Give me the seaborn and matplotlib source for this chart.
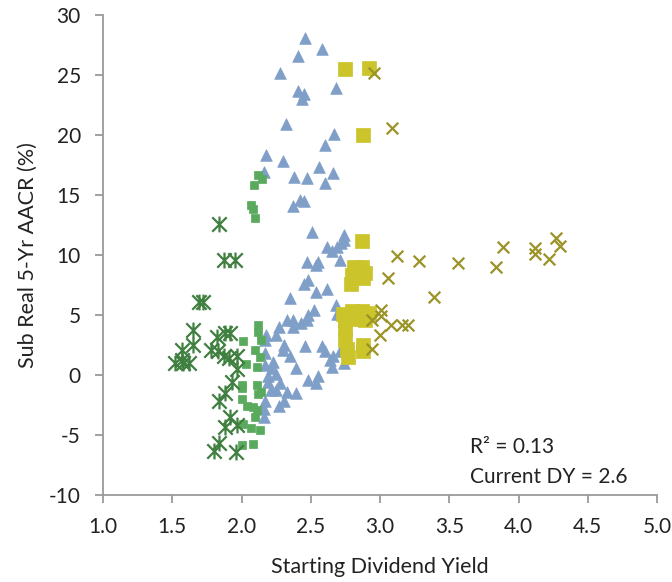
import matplotlib
matplotlib.use("Agg")
import matplotlib.pyplot as plt
from matplotlib.path import Path
import seaborn as sns

# ------------------------------------------
# data (starting DY, sub real 5-yr AACR %)
# ------------------------------------------
green_sq_x = [2.12, 2.15, 2.09, 2.07, 2.08, 2.10,
              2.12, 2.12, 2.01, 2.10, 2.14, 2.13, 2.03, 2.11,
              2.00, 2.00, 2.11, 2.14, 2.12,
              2.00, 2.04, 2.08, 2.11, 2.10, 2.01, 2.07, 2.13, 2.00, 2.08]
green_sq_y = [16.7, 16.3, 15.8, 14.2, 13.8, 13.1,
              4.2, 3.6, 2.8, 2.1, 2.9, 1.5, 0.9, 0.7,
              -0.8, -1.1, -0.8, -1.4, -1.6,
              -2.0, -2.6, -2.7, -2.9, -3.5, -4.1, -4.4, -4.6, -5.8, -5.75]

blue_tri_x = [2.46, 2.58, 2.41, 2.28, 2.41, 2.45, 2.44, 2.68, 2.32, 2.67,
              2.60, 2.18, 2.30, 2.16, 2.56, 2.66, 2.38, 2.47, 2.60, 2.42,
              2.45, 2.37, 2.51, 2.74,
              2.62, 2.65, 2.69, 2.72, 2.74, 2.47, 2.55, 2.54, 2.71,
              2.45, 2.48, 2.54, 2.62, 2.35, 2.68, 2.69,
              2.52, 2.48, 2.47, 2.43, 2.37, 2.33, 2.27, 2.37,
              2.25, 2.18, 2.17,
              2.46, 2.58, 2.60, 2.66, 2.71,
              2.31, 2.30, 2.35, 2.39, 2.23,
              2.17, 2.17, 2.22, 2.25, 2.19,
              2.64, 2.74, 2.65,
              2.48, 2.55, 2.54,
              2.19, 2.21, 2.25, 2.28,
              2.33, 2.39, 2.31,
              2.17, 2.27, 2.16, 2.16]
blue_tri_y = [28.1, 27.2, 26.6, 25.2, 23.7, 23.4, 23.0, 23.9, 20.9, 20.1,
              19.2, 18.3, 17.8, 16.9, 17.3, 16.8, 16.5, 16.4, 16.0, 14.6,
              14.5, 14.1, 11.9, 11.7,
              10.7, 10.3, 10.7, 11.0, 11.25, 9.4, 9.4, 9.2, 9.6,
              7.6, 7.9, 6.9, 7.2, 6.4, 5.8, 5.1,
              5.4, 5.0, 4.6, 4.3, 4.6, 4.6, 4.0, 4.0,
              3.3, 3.3, 2.9,
              2.4, 2.4, 2.0, 1.6, 2.0,
              2.5, 2.1, 1.6, 0.6, 1.1,
              1.8, 0.8, 0.6, 0.1, -0.1,
              1.25, 1.0, 0.7,
              -0.4, -0.1, -0.7,
              -0.6, -1.25, -1.25, -0.7,
              -1.4, -1.5, -2.2,
              -2.2, -2.6, -2.8, -3.5]

yellow_sq_x = [2.75, 2.92, 2.88, 2.87,
               2.81, 2.87, 2.89, 2.88, 2.80, 2.79,
               2.73, 2.80, 2.87, 2.92, 2.75, 2.83, 2.89, 2.75,
               2.75, 2.76, 2.77, 2.88, 2.88]
yellow_sq_y = [25.5, 25.6, 20.0, 11.2,
               9.0, 9.0, 8.5, 8.05, 8.3, 7.6,
               5.1, 5.3, 5.3, 5.2, 4.6, 4.7, 4.6, 3.9,
               2.9, 2.2, 1.5, 2.5, 2.0]

olive_x_x = [2.96, 3.09, 3.12, 3.28, 3.56, 3.84, 3.89, 4.12, 4.12, 4.22,
             4.27, 4.30, 3.06, 3.39,
             3.01, 2.94, 3.01, 3.08, 3.16, 3.20, 3.00, 2.94]
olive_x_y = [25.2, 20.6, 9.9, 9.5, 9.3, 9.0, 10.7, 10.6, 10.1, 9.7,
             11.4, 10.75, 8.1, 6.5,
             5.4, 4.6, 4.9, 4.2, 4.2, 4.2, 3.3, 2.2]

star_x = [1.84, 1.87, 1.95, 1.69, 1.72, 1.65, 1.65, 1.57, 1.57,
          1.52, 1.58, 1.62, 1.82, 1.88, 1.92,
          1.78, 1.83, 1.87, 1.91, 1.97, 1.97, 1.93,
          1.88, 1.84, 1.92, 1.88, 1.97, 1.84, 1.80, 1.96]
star_y = [12.6, 9.6, 9.6, 6.1, 6.1, 3.75, 2.5, 2.1, 1.25,
          1.0, 1.0, 1.0, 3.2, 3.5, 3.5,
          2.1, 2.0, 1.6, 1.4, 1.6, 0.5, -0.6,
          -1.5, -2.2, -3.5, -4.3, -4.2, -5.7, -6.3, -6.4]

x_ticks = [1.0, 1.5, 2.0, 2.5, 3.0, 3.5, 4.0, 4.5, 5.0]
y_ticks = [-10, -5, 0, 5, 10, 15, 20, 25, 30]
annot = ["R\u00b2 = 0.13", "Current DY = 2.6"]

# Excel-style star marker: an X with a vertical bar through it
star_marker = Path([(-1, -1), (1, 1), (-1, 1), (1, -1), (0, -1.1), (0, 1.1)],
                   [Path.MOVETO, Path.LINETO, Path.MOVETO, Path.LINETO, Path.MOVETO, Path.LINETO])

# ------------------------------------------
# plot
# ------------------------------------------
sns.set_style("white")
plt.rcParams['font.family'] = ['Lato', 'DejaVu Sans']

fig = plt.figure(figsize=(6.72, 5.82), dpi=100)
ax = fig.add_axes([0.1533, 0.1495, 0.8244, 0.8247])

sns.scatterplot(x=blue_tri_x, y=blue_tri_y, marker='^', s=70, color='#7f9fc8',
                edgecolor='#7f9fc8', linewidth=0.5, ax=ax)
sns.scatterplot(x=green_sq_x, y=green_sq_y, marker='s', s=28, color='#5aaa5e',
                edgecolor='#5aaa5e', linewidth=0.5, ax=ax)
sns.scatterplot(x=yellow_sq_x, y=yellow_sq_y, marker='s', s=115, color='#cbc42a',
                edgecolor='#cbc42a', linewidth=0.5, ax=ax)
sns.scatterplot(x=olive_x_x, y=olive_x_y, marker='x', s=70, color='#9a9326',
                linewidth=1.6, ax=ax)
sns.scatterplot(x=star_x, y=star_y, marker=star_marker, s=130, color='#3f7f3f',
                edgecolor='#3f7f3f', linewidth=1.6, ax=ax)

ax.set_xlim(1.0, 5.0)
ax.set_ylim(-10, 30)
ax.set_xticks(x_ticks)
ax.set_xticklabels([f"{t:.1f}" for t in x_ticks])
ax.set_yticks(y_ticks)
ax.set_yticklabels([str(t) for t in y_ticks])

for s in ['top', 'right']:
    ax.spines[s].set_visible(False)
for s in ['left', 'bottom']:
    ax.spines[s].set_color('#9a9a9a')
    ax.spines[s].set_linewidth(1.3)
ax.tick_params(axis='both', direction='out', length=6, width=1.3, color='#9a9a9a',
               labelsize=15, labelcolor='#222222')
ax.tick_params(axis='y', left=True, pad=10)
ax.tick_params(axis='x', bottom=True, pad=10)

ax.set_xlabel('Starting Dividend Yield', fontsize=15.5, color='#222222', labelpad=14)
ax.set_ylabel('Sub Real 5-Yr AACR (%)', fontsize=15.5, color='#222222', labelpad=8)

ax.text(3.65, -6.0, annot[0], fontsize=15, color='#222222', va='center')
ax.text(3.65, -8.5, annot[1], fontsize=15, color='#222222', va='center')

fig.savefig('out.png', dpi=100)
plt.close()
